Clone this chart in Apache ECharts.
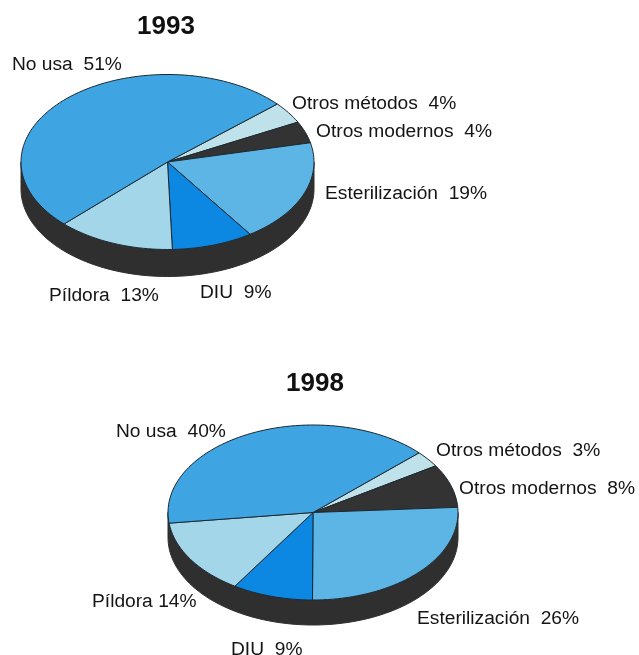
<!DOCTYPE html>
<html>
<head>
<meta charset="utf-8">
<script src="https://cdn.jsdelivr.net/npm/echarts@6/dist/echarts.min.js"></script>
<style>
  html, body { margin: 0; padding: 0; background: #fff; }
  #chart { width: 639px; height: 655px; }
</style>
</head>
<body>
<div id="chart"></div>
<script>
// clockwise order, starting from the top right of each pie
const categories = ['Otros métodos', 'Otros modernos', 'Esterilización', 'DIU', 'Píldora', 'No usa'];
const values1993 = [4, 4, 19, 9, 13, 51];
const values1998 = [3, 8, 26, 9, 14, 40];
const sliceColors = ['#bfe1ea', '#333333', '#5cb5e5', '#0c88e2', '#a4d6ea', '#3fa4e2'];

const sideColor = '#2f2f2f';
const lineColor = '#1c2a33';
const fontFamily = '"Liberation Sans", Arial, sans-serif';

// geometry of the two tilted pies
const pie1993 = {
    year: '1993', values: values1993,
    cx: 167.5, cy: 162, rx: 146.5, ry: 87.5, depth: 27, start: 41.5,
    labels: [[292, 103.5], [316, 131.5], [325, 193.5], [200, 292.5], [49, 295.5], [12, 64.5]],
    gaps: ['  ', '  ', '  ', '  ', '  ', '  ']
};
const pie1998 = {
    year: '1998', values: values1998,
    cx: 313, cy: 512.5, rx: 145, ry: 87.5, depth: 25, start: 43,
    labels: [[436, 450.5], [459, 488.5], [417, 618.5], [231, 649.5], [92, 601.5], [116, 431.5]],
    gaps: ['  ', '  ', '  ', '  ', ' ', '  ']
};

const ellipsePoints = (pie, from, to, dy) => {
    const steps = Math.max(2, Math.ceil(Math.abs(to - from) / 2));
    const pts = [];
    for (let i = 0; i <= steps; i++) {
        const a = (from + (to - from) * i / steps) * Math.PI / 180;
        pts.push([pie.cx + pie.rx * Math.cos(a), pie.cy - pie.ry * Math.sin(a) + dy]);
    }
    return pts;
};

// dark rim under the front half of the pie
const sideSeries = (pie) => ({
    type: 'custom',
    coordinateSystem: 'none',
    silent: true,
    z: 1,
    data: [0],
    renderItem: () => ({
        type: 'polygon',
        shape: {
            points: ellipsePoints(pie, 180, 360, 0).concat(ellipsePoints(pie, 360, 180, pie.depth))
        },
        style: { fill: sideColor, stroke: sideColor, lineWidth: 1 }
    })
});

const sliceSeries = (pie) => {
    const total = pie.values.reduce((a, b) => a + b, 0);
    return {
        type: 'custom',
        coordinateSystem: 'none',
        silent: true,
        z: 2,
        data: pie.values.map((v) => [v]),
        renderItem: (params, api) => {
            const i = params.dataIndex;
            const before = pie.values.slice(0, i).reduce((a, b) => a + b, 0);
            const from = pie.start - before / total * 360;
            const to = from - api.value(0) / total * 360;
            return {
                type: 'group',
                children: [
                    {
                        type: 'polygon',
                        shape: { points: [[pie.cx, pie.cy]].concat(ellipsePoints(pie, from, to, 0)) },
                        style: { fill: sliceColors[i], stroke: lineColor, lineWidth: 1 }
                    },
                    {
                        type: 'text',
                        z2: 10,
                        style: {
                            x: pie.labels[i][0],
                            y: pie.labels[i][1],
                            text: categories[i] + pie.gaps[i] + api.value(0) + '%',
                            fill: '#141414',
                            font: '19.2px ' + fontFamily,
                            textAlign: 'left',
                            textVerticalAlign: 'middle'
                        }
                    }
                ]
            };
        }
    };
};

const titleOf = (pie, x, y) => ({
    text: pie.year,
    left: x,
    top: y,
    textAlign: 'center',
    textStyle: { fontFamily: fontFamily, fontSize: 26, fontWeight: 'bold', color: '#111' }
});

const chart = echarts.init(document.getElementById('chart'), null, { renderer: 'canvas' });
chart.setOption({
    animation: false,
    backgroundColor: '#fff',
    title: [titleOf(pie1993, 161, 9), titleOf(pie1998, 310, 366)],
    tooltip: { show: false },
    series: [sideSeries(pie1993), sliceSeries(pie1993), sideSeries(pie1998), sliceSeries(pie1998)]
});
</script>
</body>
</html>
